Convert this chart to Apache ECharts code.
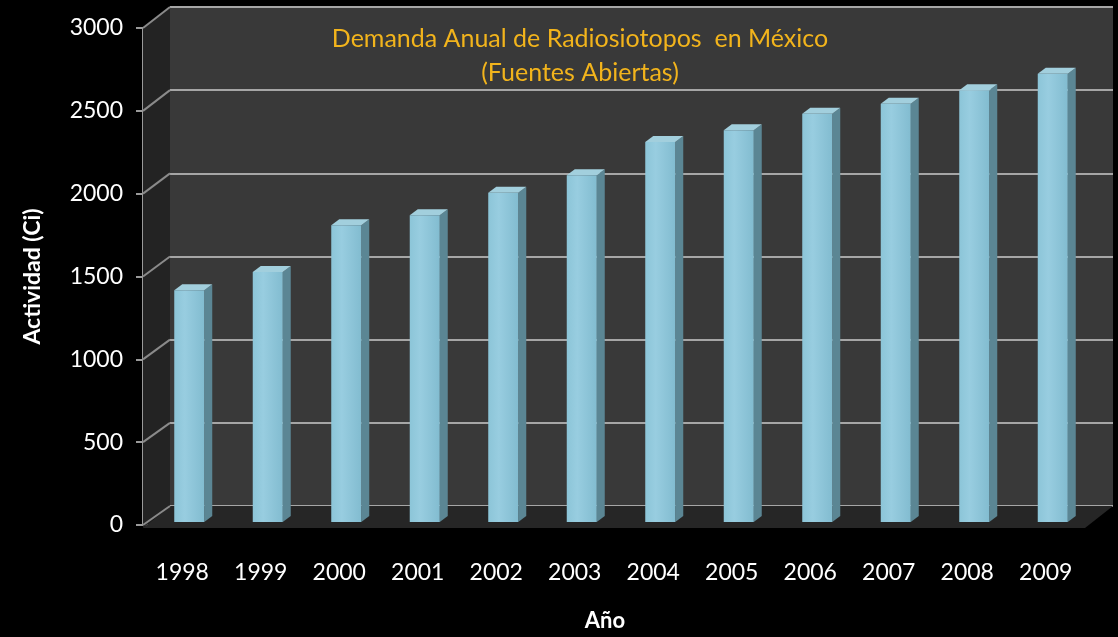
<!DOCTYPE html>
<html lang="es">
<head>
    <meta charset="UTF-8">
    <script src="https://cdn.jsdelivr.net/npm/echarts@6/dist/echarts.min.js"></script>
    <style>
        * { margin: 0; padding: 0; }
        body { background: #000; }
        #chart { width: 1118px; height: 637px; }
    </style>
</head>
<body>
<div id="chart"></div>

<script>
    // data
    const years = ['1998', '1999', '2000', '2001', '2002', '2003', '2004', '2005', '2006', '2007', '2008', '2009'];
    const activity = [1390, 1500, 1780, 1840, 1975, 2080, 2280, 2350, 2450, 2510, 2590, 2690];
    const yMin = 0, yMax = 3000, yStep = 500;

    // three planes of the fake 3d box: front (axes), middle (bars), back (wall)
    const front = {left: 143, right: 33, top: 28, bottom: 109};
    const mid = {left: 150, right: 26, top: 22, bottom: 115};
    const back = {left: 170, right: 5, top: 7, bottom: 131};
    const W = 1118, H = 637;

    const font = 'Lato, "Open Sans", sans-serif';

    const renderBar = (params, api) => {
        const top = api.coord([api.value(0), api.value(1)]);
        const base = api.coord([api.value(0), 0]);
        const w = 30, dx = 8, dy = 6;
        const l = top[0] - w / 2, r = top[0] + w / 2;
        return {
            type: 'group',
            children: [
                {
                    type: 'polygon',
                    shape: {points: [[r, top[1]], [r + dx, top[1] - dy], [r + dx, base[1] - dy], [r, base[1]]]},
                    style: {fill: '#5b8694'}
                },
                {
                    type: 'polygon',
                    shape: {points: [[l, top[1]], [r, top[1]], [r + dx, top[1] - dy], [l + dx, top[1] - dy]]},
                    style: {fill: '#a2cfdd'}
                },
                {
                    type: 'rect',
                    shape: {x: l, y: top[1], width: w, height: base[1] - top[1]},
                    style: {
                        fill: new echarts.graphic.LinearGradient(0, 0, 1, 0, [
                            {offset: 0, color: '#8cc5d8'},
                            {offset: 0.35, color: '#98cde0'},
                            {offset: 1, color: '#82bcd0'}
                        ])
                    }
                }
            ]
        };
    };

    const myChart = echarts.init(document.getElementById('chart'));

    const option = {
        backgroundColor: '#000',
        animation: false,
        title: {
            text: 'Demanda Anual de Radiosiotopos  en México\n(Fuentes Abiertas)',
            left: 575,
            top: 17,
            textAlign: 'center',
            textStyle: {color: '#f2b41c', fontFamily: font, fontSize: 25, fontWeight: 'normal', lineHeight: 34}
        },
        grid: [
            Object.assign({containLabel: false}, mid),
            Object.assign({containLabel: false}, front),
            Object.assign({containLabel: false, show: true, backgroundColor: '#393939', borderWidth: 0}, back)
        ],
        xAxis: [
            {gridIndex: 0, type: 'category', data: years, show: false},
            {
                gridIndex: 1, type: 'category', data: years,
                axisLine: {lineStyle: {color: '#9a9a9a', width: 2}},
                axisTick: {length: 8, lineStyle: {color: '#9a9a9a', width: 2}},
                axisLabel: {color: '#fff', fontFamily: font, fontSize: 23, margin: 36},
                name: 'Año',
                nameLocation: 'middle',
                nameGap: 85,
                nameTextStyle: {color: '#fff', fontFamily: font, fontSize: 22, fontWeight: 'bold', padding: [0, 18, 0, 0]}
            },
            {gridIndex: 2, type: 'category', data: years, show: false}
        ],
        yAxis: [
            {gridIndex: 0, type: 'value', min: yMin, max: yMax, interval: yStep, show: false},
            {
                gridIndex: 1, type: 'value', min: yMin, max: yMax, interval: yStep,
                axisLine: {show: true, lineStyle: {color: '#9a9a9a', width: 2}},
                axisTick: {show: true, length: 7, lineStyle: {color: '#9a9a9a', width: 2}},
                axisLabel: {
                    color: '#fff', fontFamily: font, fontSize: 23, margin: 20,
                    padding: [8, 0, 0, 0], formatter: v => String(v)
                },
                splitLine: {show: false},
                name: 'Actividad (Ci)',
                nameLocation: 'middle',
                nameRotate: 90,
                nameGap: 99,
                nameTextStyle: {color: '#fff', fontFamily: font, fontSize: 23, fontWeight: 'bold'}
            },
            {
                gridIndex: 2, type: 'value', min: yMin, max: yMax, interval: yStep,
                axisLine: {show: false}, axisTick: {show: false}, axisLabel: {show: false},
                splitLine: {show: true, lineStyle: {color: '#a6a6a6', width: 2}}
            }
        ],
        series: [{
            type: 'custom',
            xAxisIndex: 0,
            yAxisIndex: 0,
            z: 5,
            renderItem: renderBar,
            data: years.map((y, i) => [i, activity[i]])
        }]
    };

    myChart.setOption(option);

    // side wall, floor and the slanted tick lines joining front axis to back wall
    const fl = front.left, fr = W - front.right, fb = H - front.bottom;
    const bl = back.left, br = W - back.right, bb = H - back.bottom;
    const shapes = [
        {
            type: 'polygon', z: 1,
            shape: {points: [[fl, front.top], [bl, back.top], [bl, bb], [fl, fb]]},
            style: {fill: '#232323'}
        },
        {
            type: 'polygon', z: 1,
            shape: {points: [[fl, fb], [bl, bb], [br, bb], [fr, fb]]},
            style: {fill: '#262626'}
        }
    ];
    for (let v = yMin; v <= yMax; v += yStep) {
        const yf = myChart.convertToPixel({yAxisIndex: 1}, v);
        const yb = myChart.convertToPixel({yAxisIndex: 2}, v);
        shapes.push({
            type: 'line', z: 2,
            shape: {x1: fl, y1: yf, x2: bl, y2: yb},
            style: {stroke: '#8a8a8a', lineWidth: 2}
        });
    }
    myChart.setOption({graphic: shapes});
</script>
</body>
</html>
